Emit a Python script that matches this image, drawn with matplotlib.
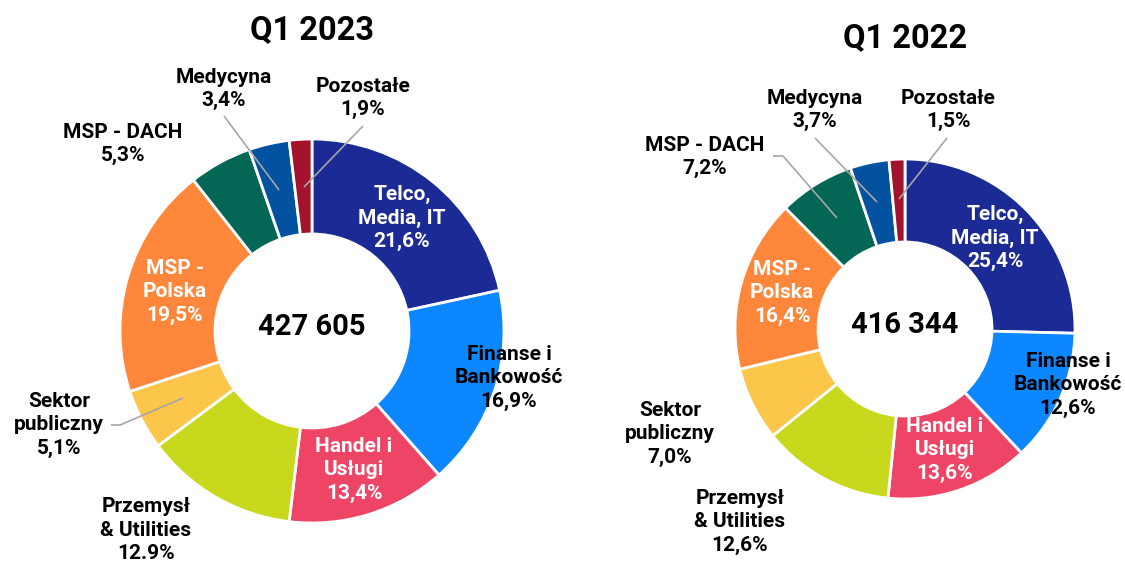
import matplotlib
matplotlib.use("Agg")
import matplotlib.pyplot as plt

plt.rcParams['font.family'] = ['Roboto', 'DejaVu Sans']

W, H = 1125, 563

# Segments, clockwise from 12 o'clock
segments = ["Telco, Media, IT", "Finanse i Bankowość", "Handel i Usługi",
            "Przemysł & Utilities", "Sektor publiczny", "MSP - Polska",
            "MSP - DACH", "Medycyna", "Pozostałe"]
colors = ["#1B2A95", "#0C87FF", "#EE4567", "#C8D91D", "#FCC64A",
          "#FF873C", "#046654", "#0352A0", "#A4132E"]

values_2023 = [21.6, 16.9, 13.4, 12.9, 5.1, 19.5, 5.3, 3.4, 1.9]
values_2022 = [25.4, 12.6, 13.6, 12.6, 7.0, 16.4, 7.2, 3.7, 1.5]
labels_2023 = ["Telco,\nMedia, IT\n21,6%", "Finanse i\nBankowość\n16,9%",
               "Handel i\nUsługi\n13,4%", "Przemysł\n& Utilities\n12.9%",
               "Sektor\npubliczny\n5,1%", "MSP -\nPolska\n19,5%",
               "MSP - DACH\n5,3%", "Medycyna\n3,4%", "Pozostałe\n1,9%"]
labels_2022 = ["Telco,\nMedia, IT\n25,4%", "Finanse i\nBankowość\n12,6%",
               "Handel i\nUsługi\n13,6%", "Przemysł\n& Utilities\n12,6%",
               "Sektor\npubliczny\n7,0%", "MSP -\nPolska\n16,4%",
               "MSP - DACH\n7,2%", "Medycyna\n3,7%", "Pozostałe\n1,5%"]
totals = ["427 605", "416 344"]
titles = ["Q1 2023", "Q1 2022"]

# white text on dark wedges
white_text = [True, False, True, False, False, True, False, False, False]

# layout (pixel coords, y from top)
charts = [
    dict(cx=312, cy=331, r=192, hole=97, title_y=30,
         values=values_2023, labels=labels_2023,
         label_pos=[(402, 218), (509, 378), (354, 470), (146, 530), (59, 425),
                    (175, 292), (123, 144), (224, 89), (363, 98)],
         leaders={4: [(111, 425), (120, 425), (183, 398)],
                  7: [(224, 116), (279, 190)],
                  8: [(363, 126), (304, 187)]}),
    dict(cx=905, cy=329, r=170, hole=87, title_y=38,
         values=values_2022, labels=labels_2022,
         label_pos=[(995, 238), (1068, 385), (945, 450), (740, 522), (670, 434),
                    (782, 293), (705, 157), (815, 110), (948, 110)],
         leaders={6: [(773, 156), (783, 156), (837, 218)],
                  7: [(815, 138), (877, 202)],
                  8: [(947, 138), (899, 199)]}),
]

fig = plt.figure(figsize=(W / 100, H / 100), dpi=100)
ax = fig.add_axes([0, 0, 1, 1])

for i, ch in enumerate(charts):
    cy = H - ch["cy"]
    ax.pie(ch["values"], colors=colors, startangle=90, counterclock=False,
           center=(ch["cx"], cy), radius=ch["r"], frame=True,
           wedgeprops=dict(width=ch["r"] - ch["hole"], edgecolor="white",
                           linewidth=2))
    ax.text(ch["cx"], H - ch["title_y"], titles[i], ha="center", va="center",
            fontsize=23.5, fontweight="bold", color="black")
    ax.text(ch["cx"], cy + 4, totals[i], ha="center", va="center",
            fontsize=21, fontweight="bold", color="black")
    for j, lab in enumerate(ch["labels"]):
        x, y = ch["label_pos"][j]
        ax.text(x, H - y, lab, ha="center", va="center", fontsize=15,
                fontweight="bold", linespacing=1.3,
                color="white" if white_text[j] else "black")
    for pts in ch["leaders"].values():
        ax.plot([p[0] for p in pts], [H - p[1] for p in pts],
                color="#A6A6A6", lw=1.2, solid_capstyle="butt")

ax.set_xlim(0, W)
ax.set_ylim(0, H)
ax.set_aspect("equal")
ax.axis("off")

fig.savefig("out.png", dpi=100, facecolor="white")
